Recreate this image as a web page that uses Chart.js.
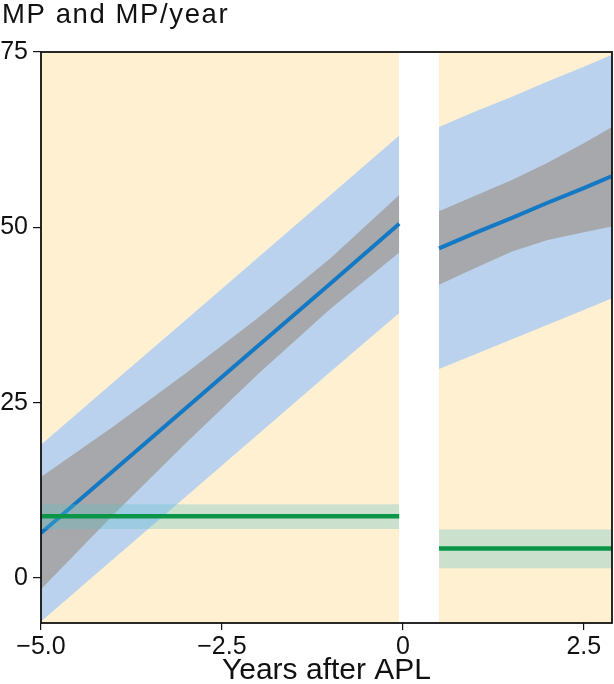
<!DOCTYPE html>
<html>
<head>
<meta charset="utf-8">
<script src="https://cdn.jsdelivr.net/npm/chart.js@4.4.1/dist/chart.umd.min.js"></script>
<style>
  html, body { margin: 0; padding: 0; background: #fff; }
  #wrap { width: 614px; height: 684px; }
</style>
</head>
<body>
<div id="wrap"><canvas id="myChart" width="614" height="684"></canvas></div>
<script>
"use strict";

// periods (before / after APL)
const leftX = [-5, -4, -3, -2, -1, -0.05];
const rightX = [0.5, 1.0, 1.5, 2.0, 2.5, 2.89];

// MP fit, confidence band (gray) and prediction band (light blue)
const leftFit = [6.4, 15.3, 24.2, 33.1, 42.0, 50.5];
const leftCiUpper = [14.4, 21.6, 29.2, 37.1, 45.6, 54.6];
const leftCiLower = [-1.6, 9.0, 19.2, 29.1, 38.4, 46.4];
const leftPiUpper = [19.0, 27.9, 36.8, 45.7, 54.6, 63.1];
const leftPiLower = [-6.2, 2.7, 11.6, 20.5, 29.4, 37.8];

const rightFit = [47.0, 49.2, 51.3, 53.5, 55.6, 57.3];
const rightCiUpper = [52.3, 54.5, 56.7, 59.2, 62.0, 64.3];
const rightCiLower = [41.8, 44.2, 46.5, 48.2, 49.3, 50.1];
const rightPiUpper = [64.3, 66.5, 68.6, 70.8, 72.9, 74.6];
const rightPiLower = [29.8, 31.9, 34.0, 36.1, 38.2, 39.9];

// MP/year (green): [before, after]
const rateMean = [8.8, 4.2];
const rateLow = [7.0, 1.4];
const rateHigh = [10.5, 6.9];

const xTickValues = [-5, -2.5, 0, 2.5];
const xTickLabels = ['\u22125.0', '\u22122.5', '0', '2.5'];
const yTickValues = [0, 25, 50, 75];
const yTickLabels = ['0', '25', '50', '75'];

const titleText = 'MP and MP/year';
const xTitle = 'Years after APL';

const X_MIN = -5, X_MAX = 2.89, Y_MIN = -6.42, Y_MAX = 75;

const YELLOW = '#fef0d0';
const PI_BLUE = '#bad2ee';
const CI_GRAY = '#a6a8ab';
const LINE_BLUE = '#1479c4';
const LINE_GREEN = '#0a9548';
const BAND_GREEN = 'rgba(91, 193, 198, 0.3)';
const FONT = '"Liberation Sans", Arial, sans-serif';

const pts = (xs, ys) => xs.map((x, i) => ({ x: x, y: ys[i] }));
const flat = (xs, v) => xs.map(x => ({ x: x, y: v }));
const ends = xs => [xs[0], xs[xs.length - 1]];

const datasets = [];
let idx = 0;
function add(ds) {
    datasets.push(Object.assign({
        pointRadius: 0,
        borderWidth: 0,
        tension: 0,
        fill: false
    }, ds));
    return idx++;
}

[leftX, rightX].forEach((xs) => {
    add({ data: flat(ends(xs), Y_MAX), fill: 'start', backgroundColor: YELLOW, order: 20 });
});

function band(xs, upper, lower, color, order) {
    const i = add({ data: pts(xs, upper), order: order, backgroundColor: color });
    const j = add({ data: pts(xs, lower), order: order + 0.5 });
    datasets[i].fill = { target: j };
}

band(leftX, leftPiUpper, leftPiLower, PI_BLUE, 15);
band(rightX, rightPiUpper, rightPiLower, PI_BLUE, 15);
band(leftX, leftCiUpper, leftCiLower, CI_GRAY, 12);
band(rightX, rightCiUpper, rightCiLower, CI_GRAY, 12);

add({ data: pts(leftX, leftFit), borderColor: LINE_BLUE, borderWidth: 4, order: 10 });
add({ data: pts(rightX, rightFit), borderColor: LINE_BLUE, borderWidth: 4, order: 10 });

[leftX, rightX].forEach((xs, k) => {
    const e = ends(xs);
    const i = add({ data: flat(e, rateHigh[k]), backgroundColor: BAND_GREEN, order: 8 });
    const j = add({ data: flat(e, rateLow[k]), order: 8.5 });
    datasets[i].fill = { target: j };
    add({ data: flat(e, rateMean[k]), borderColor: LINE_GREEN, borderWidth: 4.5, order: 5 });
});

const frameAndTitle = {
    id: 'frameAndTitle',
    afterDraw(chart) {
        const { ctx, chartArea: a } = chart;
        ctx.save();
        ctx.strokeStyle = '#111';
        ctx.lineWidth = 1.8;
        ctx.strokeRect(a.left, a.top, a.right - a.left, a.bottom - a.top);
        ctx.font = `27.5px ${FONT}`;
        ctx.letterSpacing = '1.6px';
        ctx.fillStyle = '#111';
        ctx.textBaseline = 'alphabetic';
        ctx.textAlign = 'left';
        ctx.fillText(titleText, 2, 23);
        ctx.restore();
    }
};

const ctx = document.getElementById('myChart');

new Chart(ctx, {
    type: 'line',
    data: { datasets: datasets },
    options: {
        responsive: false,
        animation: false,
        layout: { padding: { top: 52, right: 2, left: 0, bottom: 0 } },
        plugins: {
            legend: { display: false },
            tooltip: { enabled: false },
            title: { display: false },
            filler: { propagate: false }
        },
        scales: {
            x: {
                type: 'linear',
                min: X_MIN,
                max: X_MAX,
                afterBuildTicks(scale) {
                    scale.ticks = xTickValues.map(v => ({ value: v }));
                },
                afterFit(scale) { scale.height = 61; },
                grid: { drawOnChartArea: false, tickLength: 7, color: '#111', lineWidth: 1.2 },
                border: { display: false },
                ticks: {
                    autoSkip: false,
                    maxRotation: 0,
                    padding: 2,
                    color: '#111',
                    font: { family: FONT, size: 25 },
                    callback(v) {
                        const i = xTickValues.indexOf(v);
                        return i >= 0 ? xTickLabels[i] : '';
                    }
                },
                title: {
                    display: true,
                    text: xTitle,
                    color: '#111',
                    font: { family: FONT, size: 30, lineHeight: 0.9 },
                    padding: 0
                }
            },
            y: {
                type: 'linear',
                min: Y_MIN,
                max: Y_MAX,
                afterBuildTicks(scale) {
                    scale.ticks = yTickValues.map(v => ({ value: v }));
                },
                afterFit(scale) { scale.width = 41; },
                grid: { drawOnChartArea: false, tickLength: 8, color: '#111', lineWidth: 1.2 },
                border: { display: false },
                ticks: {
                    padding: 5,
                    color: '#111',
                    font: { family: FONT, size: 25 },
                    callback(v) {
                        const i = yTickValues.indexOf(v);
                        return i >= 0 ? yTickLabels[i] : '';
                    }
                }
            }
        }
    },
    plugins: [frameAndTitle]
});
</script>
</body>
</html>
